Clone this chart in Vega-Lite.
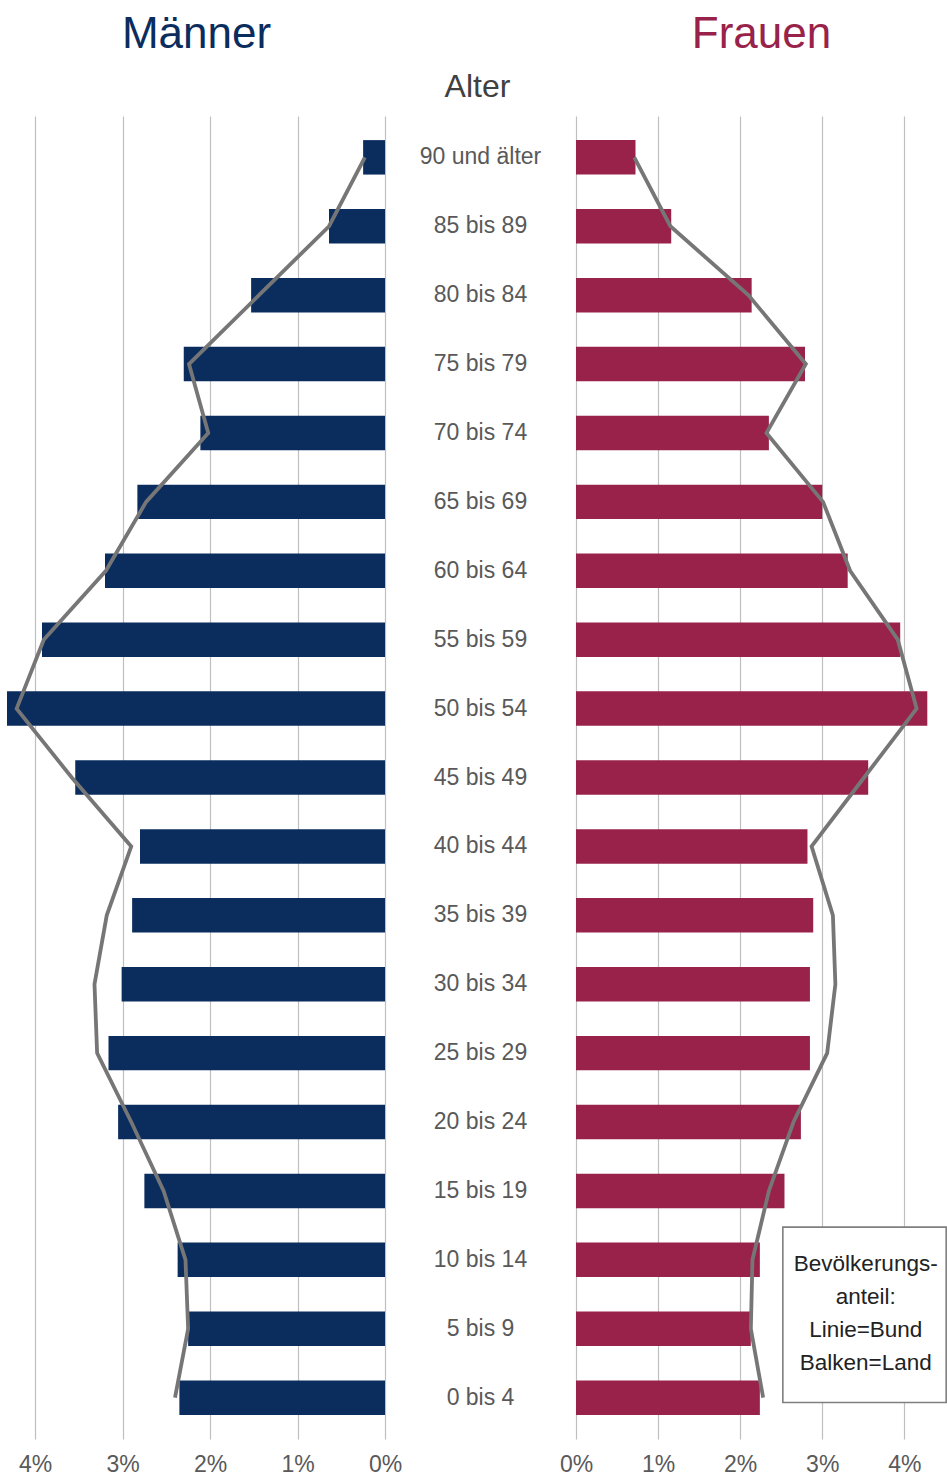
{
  "$schema": "https://vega.github.io/schema/vega-lite/v6.json",
  "autosize": {"type": "pad"},
  "padding": {"top": 13, "left": 0, "right": 0, "bottom": 0},
  "background": "white",
  "spacing": 0,
  "bounds": "flush",
  "config": {
    "view": {"stroke": null},
    "font": "Liberation Sans",
    "axis": {
      "grid": true,
      "gridColor": "#BFBFBF",
      "gridWidth": 1.2,
      "domain": false,
      "ticks": false,
      "labelFontSize": 23,
      "labelColor": "#595959",
      "labelPadding": 14,
      "labelFlush": false,
      "title": null
    }
  },
  "datasets": {
    "pop": [
      {"idx": 0, "age": "90 und älter", "m_land": 0.25, "m_bund": 0.23, "f_land": 0.725, "f_bund": 0.71},
      {"idx": 1, "age": "85 bis 89", "m_land": 0.64, "m_bund": 0.64, "f_land": 1.16, "f_bund": 1.15},
      {"idx": 2, "age": "80 bis 84", "m_land": 1.53, "m_bund": 1.44, "f_land": 2.14, "f_bund": 2.10},
      {"idx": 3, "age": "75 bis 79", "m_land": 2.30, "m_bund": 2.24, "f_land": 2.79, "f_bund": 2.80},
      {"idx": 4, "age": "70 bis 74", "m_land": 2.11, "m_bund": 2.02, "f_land": 2.35, "f_bund": 2.32},
      {"idx": 5, "age": "65 bis 69", "m_land": 2.83, "m_bund": 2.73, "f_land": 3.00, "f_bund": 3.01},
      {"idx": 6, "age": "60 bis 64", "m_land": 3.20, "m_bund": 3.19, "f_land": 3.31, "f_bund": 3.34},
      {"idx": 7, "age": "55 bis 59", "m_land": 3.92, "m_bund": 3.90, "f_land": 3.95, "f_bund": 3.92},
      {"idx": 8, "age": "50 bis 54", "m_land": 4.32, "m_bund": 4.21, "f_land": 4.28, "f_bund": 4.15},
      {"idx": 9, "age": "45 bis 49", "m_land": 3.54, "m_bund": 3.58, "f_land": 3.56, "f_bund": 3.51},
      {"idx": 10, "age": "40 bis 44", "m_land": 2.80, "m_bund": 2.90, "f_land": 2.82, "f_bund": 2.87},
      {"idx": 11, "age": "35 bis 39", "m_land": 2.89, "m_bund": 3.18, "f_land": 2.89, "f_bund": 3.13},
      {"idx": 12, "age": "30 bis 34", "m_land": 3.01, "m_bund": 3.32, "f_land": 2.85, "f_bund": 3.16},
      {"idx": 13, "age": "25 bis 29", "m_land": 3.16, "m_bund": 3.29, "f_land": 2.85, "f_bund": 3.06},
      {"idx": 14, "age": "20 bis 24", "m_land": 3.05, "m_bund": 2.90, "f_land": 2.74, "f_bund": 2.65},
      {"idx": 15, "age": "15 bis 19", "m_land": 2.75, "m_bund": 2.53, "f_land": 2.54, "f_bund": 2.35},
      {"idx": 16, "age": "10 bis 14", "m_land": 2.37, "m_bund": 2.28, "f_land": 2.24, "f_bund": 2.15},
      {"idx": 17, "age": "5 bis 9", "m_land": 2.25, "m_bund": 2.25, "f_land": 2.13, "f_bund": 2.13},
      {"idx": 18, "age": "0 bis 4", "m_land": 2.35, "m_bund": 2.40, "f_land": 2.24, "f_bund": 2.28}
    ],
    "note": [
      {"x1": 2.52, "x2": 4.51, "top": "10 bis 14", "bottom": "0 bis 4", "tx": 3.53, "ty": "10 bis 14", "label": "Bevölkerungs-\nanteil:\nLinie=Bund\nBalken=Land"}
    ]
  },
  "hconcat": [
    {
      "width": 385,
      "height": 1323,
      "title": {"text": "Männer", "fontSize": 44, "color": "#0B2D5E", "fontWeight": "normal", "baseline": "alphabetic", "offset": 24, "anchor": "middle", "dx": 4},
      "data": {"name": "pop"},
      "encoding": {
        "y": {"field": "age", "type": "ordinal", "sort": null, "axis": null,
          "scale": {"domain": ["90 und älter","85 bis 89","80 bis 84","75 bis 79","70 bis 74","65 bis 69","60 bis 64","55 bis 59","50 bis 54","45 bis 49","40 bis 44","35 bis 39","30 bis 34","25 bis 29","20 bis 24","15 bis 19","10 bis 14","5 bis 9","0 bis 4"], "type": "band", "paddingInner": 0.5, "paddingOuter": 0.35}}
      },
      "layer": [
        {
          "mark": {"type": "bar", "color": "#0B2D5E"},
          "encoding": {"x": {"field": "m_land", "type": "quantitative", "scale": {"domain": [0, 4.4], "reverse": true, "nice": false, "zero": true},
            "axis": {"values": [0, 1, 2, 3, 4], "labelExpr": "datum.value + '%'"}}}
        },
        {
          "mark": {"type": "line", "color": "#767676", "strokeWidth": 3.8},
          "encoding": {"x": {"field": "m_bund", "type": "quantitative"}, "order": {"field": "idx", "type": "quantitative"}}
        }
      ]
    },
    {
      "width": 191,
      "height": 1323,
      "title": {"text": "Alter", "fontSize": 32, "color": "#404040", "fontWeight": "normal", "baseline": "alphabetic", "offset": -13, "anchor": "middle", "dx": -3},
      "data": {"name": "pop"},
      "mark": {"type": "text", "fontSize": 23, "color": "#595959", "align": "center", "baseline": "middle"},
      "encoding": {
        "y": {"field": "age", "type": "ordinal", "sort": null, "axis": null,
          "scale": {"domain": ["90 und älter","85 bis 89","80 bis 84","75 bis 79","70 bis 74","65 bis 69","60 bis 64","55 bis 59","50 bis 54","45 bis 49","40 bis 44","35 bis 39","30 bis 34","25 bis 29","20 bis 24","15 bis 19","10 bis 14","5 bis 9","0 bis 4"], "type": "band", "paddingInner": 0.5, "paddingOuter": 0.35}},
        "text": {"field": "age", "type": "nominal"}
      }
    },
    {
      "width": 371,
      "height": 1323,
      "title": {"text": "Frauen", "fontSize": 44, "color": "#98224A", "fontWeight": "normal", "baseline": "alphabetic", "offset": 24, "anchor": "middle"},
      "layer": [
        {
          "data": {"name": "pop"},
          "mark": {"type": "bar", "color": "#98224A"},
          "encoding": {
            "y": {"field": "age", "type": "ordinal", "sort": null, "axis": null,
              "scale": {"domain": ["90 und älter","85 bis 89","80 bis 84","75 bis 79","70 bis 74","65 bis 69","60 bis 64","55 bis 59","50 bis 54","45 bis 49","40 bis 44","35 bis 39","30 bis 34","25 bis 29","20 bis 24","15 bis 19","10 bis 14","5 bis 9","0 bis 4"], "type": "band", "paddingInner": 0.5, "paddingOuter": 0.35}},
            "x": {"field": "f_land", "type": "quantitative", "scale": {"domain": [0, 4.52], "nice": false, "zero": true},
              "axis": {"values": [0, 1, 2, 3, 4], "labelExpr": "datum.value + '%'"}}
          }
        },
        {
          "data": {"name": "pop"},
          "mark": {"type": "line", "color": "#767676", "strokeWidth": 3.8},
          "encoding": {
            "y": {"field": "age", "type": "ordinal", "sort": null},
            "x": {"field": "f_bund", "type": "quantitative"},
            "order": {"field": "idx", "type": "quantitative"}
          }
        },
        {
          "data": {"name": "note"},
          "mark": {"type": "rect", "fill": "white", "stroke": "#7F7F7F", "strokeWidth": 1.6},
          "encoding": {
            "x": {"field": "x1", "type": "quantitative"},
            "x2": {"field": "x2"},
            "y": {"field": "top", "type": "ordinal", "bandPosition": -0.45},
            "y2": {"field": "bottom", "bandPosition": 0.64}
          }
        },
        {
          "data": {"name": "note"},
          "mark": {"type": "text", "lineBreak": "\n", "fontSize": 22.5, "lineHeight": 33, "color": "#222222", "align": "center", "baseline": "middle"},
          "encoding": {
            "x": {"field": "tx", "type": "quantitative"},
            "y": {"field": "ty", "type": "ordinal", "bandPosition": 0.62},
            "text": {"field": "label", "type": "nominal"}
          }
        }
      ]
    }
  ]
}
